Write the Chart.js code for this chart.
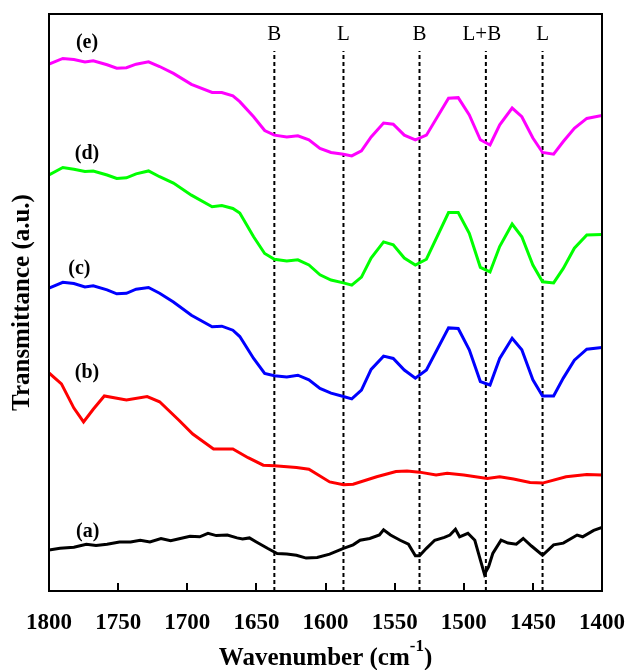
<!DOCTYPE html>
<html>
<head>
<meta charset="utf-8">
<script src="https://cdn.jsdelivr.net/npm/chart.js@4.4.0/dist/chart.umd.min.js"></script>
<style>
  html, body { margin: 0; padding: 0; background: #fff; }
</style>
</head>
<body>
<canvas id="chartFtir" width="629" height="670"></canvas>
<script>
/* Espectros FTIR de piridina adsorbida, curvas (a)-(e) */

// número de onda (cm-1) para las curvas (c), (d), (e)
const wnUpper = [1800, 1790, 1782, 1774, 1768, 1758, 1751, 1744, 1737, 1728,
  1720, 1710, 1697, 1682, 1675, 1667, 1662, 1652, 1644, 1637,
  1628, 1620, 1612, 1604, 1596, 1587, 1581, 1574, 1567, 1558,
  1551, 1543, 1535, 1527, 1511, 1504, 1496, 1488, 1481, 1474,
  1465, 1458, 1450, 1443, 1435, 1428, 1420, 1411, 1400];

const curveE = [91.3, 92.3, 92.1, 91.7, 91.9, 91.2, 90.6, 90.7, 91.3, 91.7,
  90.9, 89.7, 87.8, 86.4, 86.4, 85.8, 84.8, 82.2, 79.8, 79.0,
  78.7, 78.9, 78.2, 76.7, 76.0, 75.7, 75.4, 76.3, 78.7, 81.1,
  80.9, 79.0, 78.2, 79.0, 85.4, 85.5, 82.5, 78.2, 77.3, 80.8,
  83.7, 82.2, 78.5, 76.0, 75.7, 77.9, 80.2, 81.9, 82.4];

const curveD = [72.1, 73.4, 73.1, 72.7, 72.8, 72.1, 71.5, 71.6, 72.3, 72.8,
  71.8, 70.7, 68.6, 66.6, 66.8, 66.3, 65.5, 61.4, 58.5, 57.5,
  57.2, 57.4, 56.5, 54.8, 53.9, 53.4, 53.0, 54.4, 57.7, 60.5,
  60.0, 57.7, 56.5, 57.5, 65.6, 65.6, 62.0, 56.1, 55.3, 59.7,
  63.6, 61.4, 56.5, 53.6, 53.4, 55.9, 59.4, 61.7, 61.8];

const curveC = [52.5, 53.5, 53.3, 52.7, 52.9, 52.2, 51.5, 51.6, 52.3, 52.6,
  51.6, 50.1, 47.8, 45.8, 45.9, 45.2, 44.1, 40.3, 37.7, 37.3,
  37.1, 37.4, 36.6, 35.1, 34.3, 33.7, 33.3, 34.8, 38.4, 40.7,
  40.3, 38.3, 36.9, 38.3, 45.6, 45.5, 41.8, 36.3, 35.7, 40.3,
  43.8, 41.8, 36.6, 33.8, 33.8, 36.9, 40.0, 41.9, 42.2];

const wnB = [1800, 1791, 1782, 1775, 1768, 1760, 1744, 1729, 1720, 1706,
  1696, 1681, 1667, 1656, 1645, 1637, 1621, 1612, 1597, 1587,
  1580, 1563, 1549, 1541, 1532, 1520, 1512, 1500, 1483, 1474,
  1464, 1452, 1443, 1426, 1411, 1400];
const curveB = [37.8, 35.9, 31.7, 29.3, 31.5, 33.8, 33.1, 33.7, 32.8, 29.6,
  27.2, 24.6, 24.6, 23.1, 21.8, 21.7, 21.4, 21.1, 18.9, 18.4,
  18.5, 19.8, 20.7, 20.8, 20.6, 20.1, 20.4, 20.1, 19.5, 19.8,
  19.4, 18.8, 18.7, 19.8, 20.2, 20.1];

const wnA = [1800, 1792, 1782, 1773, 1766, 1758, 1749, 1741, 1734, 1727,
  1719, 1712, 1705, 1698, 1691, 1685, 1679, 1671, 1664, 1660,
  1655, 1650, 1642, 1635, 1628, 1621, 1614, 1606, 1597, 1587,
  1580, 1575, 1568, 1561, 1558, 1553, 1546, 1540, 1535, 1532,
  1527, 1521, 1514, 1510, 1506, 1503, 1497, 1492, 1488, 1485,
  1482, 1479, 1473, 1468, 1462, 1457, 1451, 1443, 1435, 1428,
  1418, 1414, 1406, 1400];
const curveA = [7.1, 7.4, 7.6, 8.1, 7.9, 8.1, 8.5, 8.5, 8.8, 8.5,
  9.1, 8.7, 9.1, 9.5, 9.4, 10.0, 9.6, 9.7, 9.2, 9.0,
  9.2, 8.5, 7.4, 6.5, 6.4, 6.2, 5.7, 5.8, 6.4, 7.4,
  8.0, 8.8, 9.1, 9.7, 10.6, 9.7, 8.8, 8.1, 6.1, 6.1,
  7.4, 8.8, 9.3, 9.7, 10.7, 9.4, 10.0, 8.8, 5.4, 2.9,
  4.2, 6.5, 8.8, 8.3, 8.1, 9.1, 7.8, 6.2, 8.0, 8.3,
  9.7, 9.4, 10.5, 11.0];

// bandas de Brønsted (B) y Lewis (L)
const bandPositions = [1637, 1587, 1532, 1484, 1443];
const bandLabels = ["B", "L", "B", "L+B", "L"];
const bandTop = 93.6;

const xTicks = [1800, 1750, 1700, 1650, 1600, 1550, 1500, 1450, 1400];
const sampleLabels = ["(a)", "(b)", "(c)", "(d)", "(e)"];
// dónde va cada etiqueta, en unidades de los ejes
const sampleLabelSpots = [[1772, 10.2], [1772.5, 37.8], [1778, 55.8], [1772.5, 75.7], [1772.5, 95.0]];

const SERIF = "'Liberation Serif', 'Times New Roman', serif";

const toPoints = (xs, ys) => xs.map((x, i) => ({ x, y: ys[i] }));

const curveStyle = (color) => ({
  borderColor: color,
  borderWidth: 3,
  pointRadius: 0,
  tension: 0,
  fill: false,
  order: 0,
});

const datasets = [
  { label: "(e)", data: toPoints(wnUpper, curveE), ...curveStyle("#ff00ff") },
  { label: "(d)", data: toPoints(wnUpper, curveD), ...curveStyle("#00ff00") },
  { label: "(c)", data: toPoints(wnUpper, curveC), ...curveStyle("#0000ff") },
  { label: "(b)", data: toPoints(wnB, curveB), ...curveStyle("#ff0000") },
  { label: "(a)", data: toPoints(wnA, curveA), ...curveStyle("#000000") },
];

bandPositions.forEach((wn, i) => {
  datasets.push({
    label: bandLabels[i],
    data: [{ x: wn, y: 0 }, { x: wn, y: bandTop }],
    borderColor: "#000",
    borderWidth: 2,
    borderDash: [4, 3],
    pointRadius: 0,
    order: 10,
  });
});

// marco, ticks hacia dentro y textos extra
const decorations = {
  id: "decorations",
  afterDraw(chart) {
    const { ctx, chartArea: a, scales: { x, y } } = chart;
    ctx.save();
    ctx.strokeStyle = "#000";
    ctx.lineWidth = 2;
    ctx.strokeRect(a.left, a.top, a.right - a.left, a.bottom - a.top);

    xTicks.forEach((v) => {
      const px = Math.round(x.getPixelForValue(v));
      ctx.beginPath();
      ctx.moveTo(px, a.bottom);
      ctx.lineTo(px, a.bottom - 8);
      ctx.stroke();
    });

    ctx.fillStyle = "#000";
    ctx.textAlign = "center";
    ctx.textBaseline = "middle";
    ctx.font = `bold 20px ${SERIF}`;
    sampleLabels.forEach((t, i) => {
      const [wx, wy] = sampleLabelSpots[i];
      ctx.fillText(t, x.getPixelForValue(wx), y.getPixelForValue(wy));
    });

    ctx.font = `21px ${SERIF}`;
    const labelY = y.getPixelForValue(bandTop) - 16;
    bandPositions.forEach((wn, i) => {
      const off = bandLabels[i].length > 1 ? -4 : 0;
      ctx.fillText(bandLabels[i], x.getPixelForValue(wn) + off, labelY);
    });

    // título del eje x con superíndice
    const main = "Wavenumber (cm";
    const sup = "-1";
    const close = ")";
    ctx.textBaseline = "alphabetic";
    ctx.textAlign = "left";
    const bigFont = `bold 25px ${SERIF}`;
    const smallFont = `bold 17px ${SERIF}`;
    ctx.font = bigFont;
    const w1 = ctx.measureText(main).width;
    const w3 = ctx.measureText(close).width;
    ctx.font = smallFont;
    const w2 = ctx.measureText(sup).width;
    const cx = (a.left + a.right) / 2;
    let sx = cx - (w1 + w2 + w3) / 2;
    const base = 665;
    ctx.font = bigFont;
    ctx.fillText(main, sx, base);
    sx += w1;
    ctx.font = smallFont;
    ctx.fillText(sup, sx, base - 14);
    sx += w2;
    ctx.font = bigFont;
    ctx.fillText(close, sx, base);
    ctx.restore();
  },
};

new Chart(document.getElementById("chartFtir"), {
  type: "line",
  data: { datasets },
  plugins: [decorations],
  options: {
    responsive: false,
    animation: false,
    layout: { autoPadding: false, padding: { left: 0, right: 27, top: 14, bottom: 0 } },
    plugins: { legend: { display: false }, tooltip: { enabled: false } },
    scales: {
      x: {
        type: "linear",
        reverse: true,
        min: 1400,
        max: 1800,
        afterFit: (s) => {
          s.height = 79;
          // sin margen extra por las etiquetas de los extremos
          s.paddingLeft = 0;
          s.paddingRight = 0;
        },
        afterBuildTicks: (s) => { s.ticks = xTicks.map((v) => ({ value: v })); },
        grid: { display: false, drawTicks: false },
        border: { display: false },
        ticks: {
          color: "#000",
          padding: 18,
          maxRotation: 0,
          autoSkip: false,
          callback: (v) => String(v),
          font: { family: SERIF, size: 23, weight: "bold" },
        },
      },
      y: {
        min: 0,
        max: 100,
        afterFit: (s) => { s.width = 49; },
        grid: { display: false, drawTicks: false },
        border: { display: false },
        ticks: { display: false },
        title: {
          display: true,
          text: "Transmittance (a.u.)",
          color: "#000",
          padding: { top: 8, bottom: 0 },
          font: { family: SERIF, size: 25, weight: "bold" },
        },
      },
    },
  },
});
</script>
</body>
</html>
